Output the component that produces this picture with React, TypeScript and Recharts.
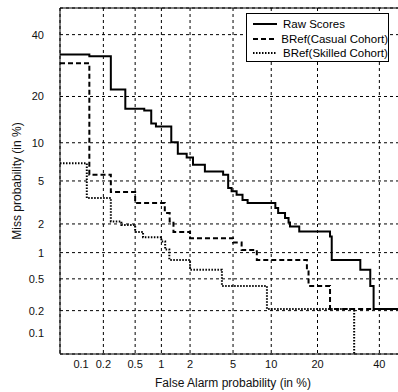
import { LineChart, Line, XAxis, YAxis, CartesianGrid, Legend, ReferenceLine } from 'recharts'

// DET curve points: [false alarm %, miss %], each pair starts a step
const rawScores: [number, number][] = [
  [0.05, 32.9], [0.13, 32.3], [0.25, 21.9], [0.38, 16.9], [0.64, 16.5], [0.77, 13.6],
  [0.87, 13.0], [1.28, 10.1], [1.5, 8.3], [1.85, 7.75], [2.14, 6.8], [2.79, 6.0],
  [4.1, 5.65], [4.54, 4.34], [4.86, 4.06], [5.36, 3.79], [6.0, 3.4], [6.6, 3.18],
  [10.7, 2.86], [11.2, 2.56], [12.5, 2.29], [13.2, 2.07], [13.5, 1.89], [15.5, 1.68],
  [23.5, 1.49], [24.0, 0.83], [33.2, 0.64], [36.7, 0.41], [37.9, 0.21], [50, 0.21],
]
const casualCohort: [number, number][] = [
  [0.05, 30.0], [0.13, 5.65], [0.25, 4.0], [0.5, 3.18], [1.09, 2.56], [1.23, 2.12],
  [1.35, 1.66], [2.0, 1.43], [5.0, 1.29], [5.9, 1.07], [7.8, 0.83], [17.3, 0.61],
  [17.7, 0.41], [23.5, 0.21], [50, 0.21],
]
const skilledCohort: [number, number][] = [
  [0.05, 7.0], [0.12, 3.54], [0.25, 2.12], [0.34, 1.95], [0.5, 1.66], [0.62, 1.46],
  [1.0, 1.32], [1.1, 1.08], [1.22, 0.83], [2.0, 0.64], [4.0, 0.41], [9.3, 0.21],
  [31.1, 0], [50, 0],
]

const tickLabels = [0.1, 0.2, 0.5, 1, 2, 5, 10, 20, 40]
const axisMin = 0.05
const axisMax = 50

// inverse normal CDF (Acklam), input in percent
function probit(pct: number) {
  const p = pct / 100
  if (p <= 0) return -5
  if (p >= 1) return 5
  const a = [-39.69683028665376, 220.9460984245205, -275.9285104469687, 138.357751867269, -30.66479806614716, 2.506628277459239]
  const b = [-54.47609879822406, 161.5858368580409, -155.6989798598866, 66.80131188771972, -13.28068155833025]
  const c = [-0.007784894002430293, -0.3223964580411365, -2.400758277161838, -2.549732539343734, 4.374664141464968, 2.938163982698783]
  const d = [0.007784695709041462, 0.3224671290700398, 2.445134137142996, 3.754408661907416]
  const pl = 0.02425
  if (p < pl) {
    const q = Math.sqrt(-2 * Math.log(p))
    return (((((c[0] * q + c[1]) * q + c[2]) * q + c[3]) * q + c[4]) * q + c[5]) / ((((d[0] * q + d[1]) * q + d[2]) * q + d[3]) * q + 1)
  }
  if (p <= 1 - pl) {
    const q = p - 0.5
    const r = q * q
    return ((((((a[0] * r + a[1]) * r + a[2]) * r + a[3]) * r + a[4]) * r + a[5]) * q) / (((((b[0] * r + b[1]) * r + b[2]) * r + b[3]) * r + b[4]) * r + 1)
  }
  const q = Math.sqrt(-2 * Math.log(1 - p))
  return -(((((c[0] * q + c[1]) * q + c[2]) * q + c[3]) * q + c[4]) * q + c[5]) / ((((d[0] * q + d[1]) * q + d[2]) * q + d[3]) * q + 1)
}

const toPoints = (pts: [number, number][]) => pts.map(([fa, miss]) => ({ x: probit(fa), y: probit(miss) }))

const ticks = tickLabels.map(probit)
const domain = [probit(axisMin), probit(axisMax)]
const fmt = (v: number) => {
  const i = ticks.findIndex(t => Math.abs(t - v) < 1e-6)
  return i >= 0 ? String(tickLabels[i]) : ''
}

const series = [
  { name: 'Raw Scores', dash: undefined, width: 2 },
  { name: 'BRef(Casual Cohort)', dash: '5 3', width: 2 },
  { name: 'BRef(Skilled Cohort)', dash: '1.5 1.5', width: 2 },
]

function DetLegend() {
  return (
    <div style={{ border: '1px solid #000', background: '#fff', width: 143, height: 49, boxSizing: 'border-box', paddingTop: 3 }}>
      {series.map(s => (
        <div key={s.name} style={{ display: 'flex', alignItems: 'center', height: 14.6 }}>
          <svg width={24} height={4} style={{ marginLeft: 6 }}>
            <line x1={0} y1={2} x2={24} y2={2} stroke="#000" strokeWidth={s.width} strokeDasharray={s.dash} />
          </svg>
          <span style={{ marginLeft: 6, fontSize: 11.5, color: '#000', whiteSpace: 'nowrap' }}>{s.name}</span>
        </div>
      ))}
    </div>
  )
}

export default function App() {
  const tickStyle = { fontSize: 11, fill: '#111', fontFamily: 'Liberation Sans, Arial, sans-serif' }
  return (
    <div style={{ position: 'absolute', left: 0, top: 0, width: 398, height: 392, overflow: 'hidden', background: '#fff', fontFamily: 'Liberation Sans, Arial, sans-serif' }}>
      <LineChart width={420} height={392} margin={{ top: 8, right: 14, bottom: 0, left: 0 }}>
        <CartesianGrid stroke="#000" strokeDasharray="3 3" />
        <XAxis
          type="number"
          dataKey="x"
          domain={domain}
          ticks={ticks}
          allowDataOverflow
          tickFormatter={fmt}
          tick={tickStyle}
          tickSize={0}
          tickMargin={6}
          height={38}
          axisLine={{ stroke: '#000' }}
          label={{ value: 'False Alarm probability (in %)', position: 'insideBottom', offset: 5, style: { fontSize: 12, fill: '#111' } }}
        />
        <YAxis
          type="number"
          dataKey="y"
          domain={domain}
          ticks={ticks}
          allowDataOverflow
          tickFormatter={fmt}
          tick={tickStyle}
          tickSize={0}
          tickMargin={16}
          width={60}
          axisLine={{ stroke: '#000' }}
          label={{ value: 'Miss probability (in %)', angle: -90, position: 'insideLeft', offset: 17, style: { fontSize: 12, fill: '#111', textAnchor: 'middle' } }}
        />
        <ReferenceLine y={domain[1]} stroke="#000" />
        <ReferenceLine x={domain[1]} stroke="#000" />
        <Legend
          layout="vertical"
          align="center"
          verticalAlign="middle"
          content={() => <DetLegend />}
          wrapperStyle={{ position: 'absolute', left: 246, top: 13, width: 143, height: 49 }}
        />
        <Line data={toPoints(skilledCohort)} dataKey="y" type="stepAfter" stroke="#000" strokeWidth={2} strokeDasharray="1.5 1.5" dot={false} isAnimationActive={false} name="BRef(Skilled Cohort)" />
        <Line data={toPoints(casualCohort)} dataKey="y" type="stepAfter" stroke="#000" strokeWidth={2} strokeDasharray="5 3" dot={false} isAnimationActive={false} name="BRef(Casual Cohort)" />
        <Line data={toPoints(rawScores)} dataKey="y" type="stepAfter" stroke="#000" strokeWidth={2} dot={false} isAnimationActive={false} name="Raw Scores" />
      </LineChart>
    </div>
  )
}
